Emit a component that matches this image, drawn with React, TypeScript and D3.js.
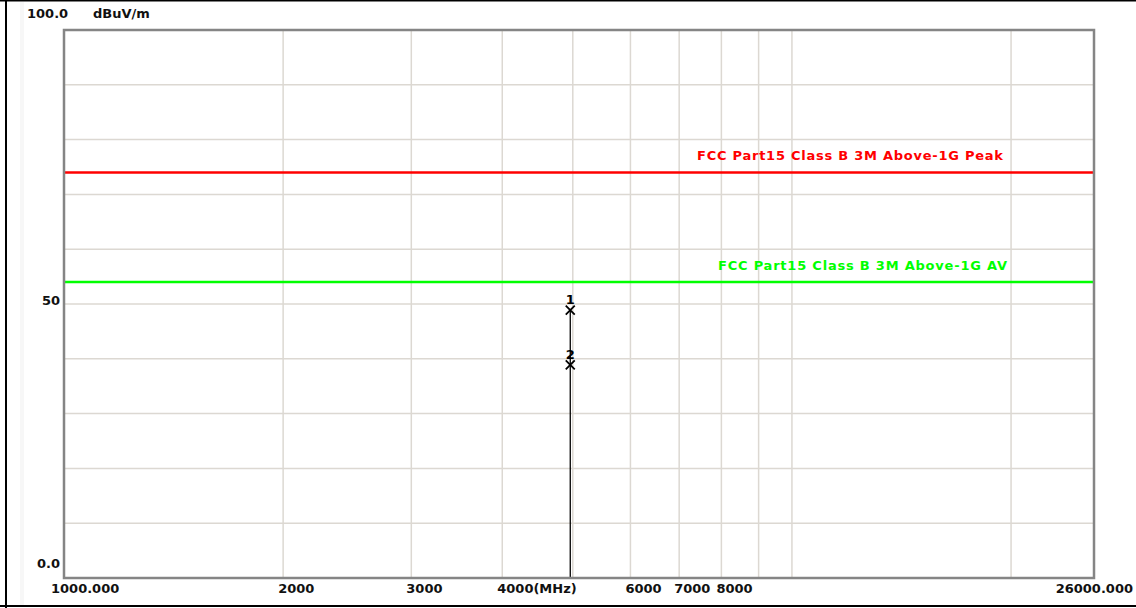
import React, { useEffect, useRef } from "react";
import * as d3 from "d3";

// Frequency axis (MHz, log) and level axis (dBuV/m)
const freqDomain = [1000, 26000];
const levelDomain = [0, 100];
const freqGrid = [2000, 3000, 4000, 5000, 6000, 7000, 8000, 9000, 10000, 20000];
const levelGrid = [10, 20, 30, 40, 50, 60, 70, 80, 90];
const freqLabels = [
  { f: 2000, text: "2000" },
  { f: 3000, text: "3000" },
  { f: 4000, text: "4000(MHz)" },
  { f: 6000, text: "6000" },
  { f: 7000, text: "7000" },
  { f: 8000, text: "8000" },
];

// Limit lines
const limits = [
  { name: "FCC Part15 Class B 3M Above-1G Peak", level: 74, color: "#ff0000" },
  { name: "FCC Part15 Class B 3M Above-1G AV", level: 54, color: "#00ff00" },
];

// Measured markers
const markers = [
  { id: "1", freq: 4960, level: 48.9 },
  { id: "2", freq: 4960, level: 38.9 },
];

const W = 1136;
const H = 608;
const margin = { top: 30, right: 42, bottom: 30, left: 64 };
const FONT = "'DejaVu Sans', Verdana, sans-serif";

const App: React.FC = () => {
  const svgRef = useRef<SVGSVGElement | null>(null);

  useEffect(() => {
    if (!svgRef.current) return;
    const svg = d3.select(svgRef.current);
    svg.selectAll("*").remove();

    const x = d3.scaleLog()
      .domain(freqDomain)
      .range([margin.left, W - margin.right]);
    const y = d3.scaleLinear()
      .domain(levelDomain)
      .range([H - margin.bottom, margin.top]);

    // background + outer border
    svg.append("rect").attr("width", W).attr("height", H).attr("fill", "#fff");
    svg.append("rect")
      .attr("x", 20).attr("y", 2).attr("width", 4).attr("height", H - 4)
      .attr("fill", "#f7f7f7");
    svg.append("line").attr("x1", 0).attr("x2", W).attr("y1", 0.5).attr("y2", 0.5)
      .attr("stroke", "#000").attr("stroke-width", 2);
    svg.append("line").attr("x1", 0).attr("x2", W).attr("y1", H - 2).attr("y2", H - 2)
      .attr("stroke", "#000").attr("stroke-width", 2);
    svg.append("line").attr("x1", 6).attr("x2", 6).attr("y1", 0).attr("y2", H)
      .attr("stroke", "#000").attr("stroke-width", 2);

    // grid
    const grid = svg.append("g").attr("stroke", "#dcd8d2").attr("stroke-width", 1.5);
    grid.selectAll("line.v")
      .data(freqGrid)
      .enter()
      .append("line")
      .attr("x1", d => x(d)).attr("x2", d => x(d))
      .attr("y1", y(0)).attr("y2", y(100));
    grid.selectAll("line.h")
      .data(levelGrid)
      .enter()
      .append("line")
      .attr("x1", x(1000)).attr("x2", x(26000))
      .attr("y1", d => y(d)).attr("y2", d => y(d));

    // limit lines
    limits.forEach(l => {
      svg.append("line")
        .attr("x1", x(1000)).attr("x2", x(26000))
        .attr("y1", y(l.level)).attr("y2", y(l.level))
        .attr("stroke", l.color).attr("stroke-width", 2.5);
    });
    svg.append("text")
      .attr("x", 697).attr("y", y(limits[0].level) - 12)
      .attr("textLength", 306).attr("lengthAdjust", "spacing")
      .attr("fill", limits[0].color)
      .attr("font-family", FONT).attr("font-weight", "bold").attr("font-size", 13)
      .text(limits[0].name);
    svg.append("text")
      .attr("x", 718).attr("y", y(limits[1].level) - 12)
      .attr("textLength", 289).attr("lengthAdjust", "spacing")
      .attr("fill", limits[1].color)
      .attr("font-family", FONT).attr("font-weight", "bold").attr("font-size", 13)
      .text(limits[1].name);

    // trace line from highest marker down to the floor
    const top = d3.max(markers, d => d.level) ?? 0;
    svg.append("line")
      .attr("x1", x(markers[0].freq)).attr("x2", x(markers[0].freq))
      .attr("y1", y(top)).attr("y2", y(0))
      .attr("stroke", "#000").attr("stroke-width", 1.3);

    // markers
    const mk = svg.selectAll("g.marker")
      .data(markers)
      .enter()
      .append("g")
      .attr("transform", d => `translate(${x(d.freq)},${y(d.level)})`);
    mk.append("path")
      .attr("d", "M-4.5,-4.5L4.5,4.5M-4.5,4.5L4.5,-4.5")
      .attr("stroke", "#000").attr("stroke-width", 1.8).attr("fill", "none");
    mk.append("text")
      .attr("y", -6)
      .attr("text-anchor", "middle")
      .attr("font-family", FONT).attr("font-weight", "bold").attr("font-size", 13)
      .text(d => d.id);

    // plot frame
    svg.append("rect")
      .attr("x", x(1000)).attr("y", y(100))
      .attr("width", x(26000) - x(1000)).attr("height", y(0) - y(100))
      .attr("fill", "none").attr("stroke", "#858585").attr("stroke-width", 2.5);

    // axis labels
    const txt = (xx: number, yy: number, s: string, anchor = "start") =>
      svg.append("text")
        .attr("x", xx).attr("y", yy)
        .attr("text-anchor", anchor)
        .attr("font-family", FONT).attr("font-weight", "bold").attr("font-size", 13)
        .attr("fill", "#111")
        .text(s);

    txt(27, y(100) - 12, "100.0");
    txt(93, y(100) - 12, "dBuV/m");
    txt(60, y(50) + 1, "50", "end");
    txt(60, y(0) - 10, "0.0", "end");

    txt(x(1000) - 13, H - 15, "1000.000");
    freqLabels.forEach(l => txt(x(l.f) - 5, H - 15, l.text));
    txt(x(26000) + 39, H - 15, "26000.000", "end");
  }, []);

  return (
    <svg
      ref={svgRef}
      width={W}
      height={H}
      style={{ position: "absolute", left: 0, top: 0 }}
    ></svg>
  );
};

export default App;
